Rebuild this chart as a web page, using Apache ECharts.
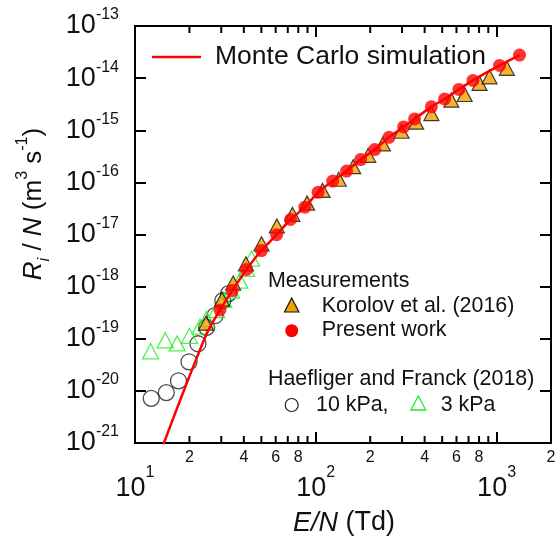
<!DOCTYPE html>
<html>
<head>
<meta charset="utf-8">
<script src="https://cdn.jsdelivr.net/npm/echarts@6/dist/echarts.min.js"></script>
<style>
html,body{margin:0;padding:0;background:#fff;}
#chart{width:558px;height:539px;}
</style>
</head>
<body>
<div id="chart"></div>
<script>
// ---- data ----
const xMin = 10, xMax = 2000;
const yMin = 1e-21, yMax = 1e-13;

const mcX = [13.9, 17.7, 21.9, 25.3, 29.5, 34.5, 41.4, 50, 60.7, 72.5, 87, 103, 124, 148, 177, 212, 254, 306, 352, 436, 516, 619, 740, 1039, 1339];
const mcY = [7.0e-22, 6.4e-21, 4.2e-20, 1.4e-19, 3.56e-19, 8.4e-19, 2.14e-18, 4.92e-18, 9.9e-18, 1.94e-17, 3.35e-17, 6.43e-17, 1.06e-16, 1.65e-16, 2.74e-16, 4.26e-16, 7.33e-16, 1.16e-15, 1.65e-15, 2.81e-15, 3.98e-15, 6.07e-15, 9.04e-15, 1.75e-14, 2.77e-14];

const presentX = [29.5, 34.5, 41.4, 50, 60.7, 72.5, 87, 103, 124, 148, 177, 212, 254, 306, 352, 436, 516, 619, 740, 1039, 1339];
const presentY = [3.56e-19, 8.4e-19, 2.14e-18, 4.92e-18, 9.9e-18, 1.94e-17, 3.35e-17, 6.43e-17, 1.06e-16, 1.65e-16, 2.74e-16, 4.26e-16, 7.33e-16, 1.16e-15, 1.65e-15, 2.81e-15, 3.98e-15, 6.07e-15, 9.04e-15, 1.75e-14, 2.77e-14];

const korX = [24.7, 30.3, 34.9, 41.1, 50.1, 60.9, 74.3, 89.5, 109, 134, 161, 195, 235, 298, 359, 436, 562, 666, 805, 914, 1140];
const korY = [1.99e-19, 5.75e-19, 1.17e-18, 2.74e-18, 6.62e-18, 1.46e-17, 2.43e-17, 4.0e-17, 7.01e-17, 1.15e-16, 2.0e-16, 3.3e-16, 5.46e-16, 9.57e-16, 1.43e-15, 2.09e-15, 3.78e-15, 4.86e-15, 7.91e-15, 1.06e-14, 1.54e-14];

const h10X = [12.3, 14.9, 17.4, 19.9, 22.3, 24.9, 27.7, 30.6, 32.9];
const h10Y = [7.18e-21, 9.27e-21, 1.56e-20, 3.61e-20, 8.02e-20, 1.66e-19, 2.77e-19, 5.38e-19, 7.33e-19];

const h3X = [12.2, 14.7, 17.1, 20.0, 22.9, 24.9, 28.3, 31.0, 34.2, 38.0, 41.4, 44.1];
const h3Y = [5.75e-20, 9.35e-20, 8.13e-20, 1.14e-19, 1.70e-19, 2.39e-19, 3.56e-19, 5.55e-19, 8.38e-19, 1.30e-18, 2.19e-18, 3.45e-18];

const minorTickVals = [20, 30, 40, 50, 60, 70, 80, 90, 200, 300, 400, 500, 600, 700, 800, 900];
const minorLabelVals = [20, 40, 60, 80, 200, 400, 600, 800, 2000];
const minorLabelText = ['2', '4', '6', '8', '2', '4', '6', '8', '2'];

const legendMC = 'Monte Carlo simulation';
const legendMeas = 'Measurements';
const legendKor = 'Korolov et al. (2016)';
const legendPresent = 'Present work';
const legendHF = 'Haefliger and Franck (2018)';
const legend10 = '10 kPa,';
const legend3 = '3 kPa';

// ---- helpers ----
// ECharts' log axis rounds tick values to 10 decimals, so y is plotted in units of 1e-21 m^3 s^-1
// and the tick labels add the exponent back.
const Y_EXP = -21;
const Y_UNIT = Math.pow(10, Y_EXP);
const ys = v => v / Y_UNIT;
const zip = (a, b) => a.map((v, i) => [v, ys(b[i])]);
const FONT = 'Liberation Sans, Arial, sans-serif';
const RED = '#ff0000';
const ORANGE = '#f5a000';
const GREEN = '#22ee22';

function expLabelFn(offset) {
  return function (v) {
    const e = Math.log10(v);
    const r = Math.round(e);
    if (Math.abs(e - r) > 1e-6) return '';
    return '{b|10}{s|' + (r + offset) + '}';
  };
}
const xLabelRich = {
  b: { fontSize: 27, fontFamily: FONT, color: '#111', lineHeight: 48 },
  s: { fontSize: 16, fontFamily: FONT, color: '#111', lineHeight: 16, verticalAlign: 'top' }
};
const yLabelRich = {
  b: { fontSize: 27, fontFamily: FONT, color: '#111', lineHeight: 38 },
  s: { fontSize: 16, fontFamily: FONT, color: '#111', lineHeight: 16, verticalAlign: 'top' }
};

const axisLineStyle = { show: true, lineStyle: { color: '#000', width: 2 } };
const majorTick = { show: true, inside: true, length: 11, lineStyle: { color: '#000', width: 2 } };

const chart = echarts.init(document.getElementById('chart'), null, { renderer: 'canvas' });

const option = {
  animation: false,
  backgroundColor: '#fff',
  grid: { left: 135, right: 7, top: 26, bottom: 96 },
  xAxis: [
    {
      type: 'log', logBase: 10, min: xMin, max: xMax,
      axisLine: axisLineStyle, axisTick: majorTick, splitLine: { show: false },
      axisLabel: { formatter: expLabelFn(0), rich: xLabelRich, margin: 22, showMinLabel: true, showMaxLabel: true }
    },
    {
      type: 'log', logBase: 10, min: xMin, max: xMax, position: 'top',
      axisLine: axisLineStyle, axisTick: majorTick, splitLine: { show: false },
      axisLabel: { show: false }
    }
  ],
  yAxis: [
    {
      type: 'log', logBase: 10, min: ys(yMin), max: ys(yMax),
      axisLine: axisLineStyle, axisTick: majorTick, splitLine: { show: false },
      axisLabel: { formatter: expLabelFn(Y_EXP), rich: yLabelRich, margin: 16, showMinLabel: true, showMaxLabel: true }
    },
    {
      type: 'log', logBase: 10, min: ys(yMin), max: ys(yMax), position: 'right',
      axisLine: axisLineStyle, axisTick: majorTick, splitLine: { show: false },
      axisLabel: { show: false }
    }
  ],
  series: [
    {
      type: 'custom', name: 'minorTicks', xAxisIndex: 0, yAxisIndex: 0, clip: false, silent: true, z: 1,
      data: minorTickVals.map(v => [v, ys(yMin)]),
      renderItem: function (params, api) {
        const v = api.value(0);
        const pb = api.coord([v, ys(yMin)]);
        const pt = api.coord([v, ys(yMax)]);
        return {
          type: 'group', children: [
            { type: 'line', shape: { x1: pb[0], y1: pb[1], x2: pb[0], y2: pb[1] - 7 }, style: { stroke: '#000', lineWidth: 2 } },
            { type: 'line', shape: { x1: pt[0], y1: pt[1], x2: pt[0], y2: pt[1] + 7 }, style: { stroke: '#000', lineWidth: 2 } }
          ]
        };
      }
    },
    {
      type: 'custom', name: 'minorLabels', xAxisIndex: 0, yAxisIndex: 0, clip: false, silent: true, z: 1,
      data: minorLabelVals.map(v => [v, ys(yMin)]),
      renderItem: function (params, api) {
        const v = api.value(0);
        const pb = api.coord([v, ys(yMin)]);
        return {
          type: 'text',
          style: { x: pb[0], y: pb[1] + 15, text: minorLabelText[params.dataIndex], font: '16px ' + FONT, fill: '#111', align: 'center', verticalAlign: 'middle' }
        };
      }
    },
    {
      type: 'scatter', name: '10 kPa', data: zip(h10X, h10Y), symbol: 'circle', symbolSize: 16, z: 2,
      itemStyle: { color: 'rgba(0,0,0,0)', borderColor: '#222', borderWidth: 1.3 }
    },
    {
      type: 'scatter', name: '3 kPa', data: zip(h3X, h3Y), symbol: 'triangle', symbolSize: [16, 15], z: 3,
      itemStyle: { color: 'rgba(0,0,0,0)', borderColor: GREEN, borderWidth: 1.3 }
    },
    {
      type: 'scatter', name: 'Korolov', data: zip(korX, korY), symbol: 'triangle', symbolSize: [15, 14], z: 4,
      itemStyle: { color: ORANGE, borderColor: '#111', borderWidth: 1.2 }
    },
    {
      type: 'line', name: 'Monte Carlo', data: zip(mcX, mcY), symbol: 'none', smooth: 0.3, z: 5, clip: true,
      lineStyle: { color: RED, width: 2.5 }
    },
    {
      type: 'scatter', name: 'Present', data: zip(presentX, presentY), symbol: 'circle', symbolSize: 13, z: 6,
      itemStyle: { color: RED }
    }
  ],
  graphic: [
    { type: 'line', shape: { x1: 152, y1: 57, x2: 201, y2: 57 }, style: { stroke: RED, lineWidth: 2.5 } },
    { type: 'text', x: 215, y: 57, style: { text: legendMC, font: '26.5px ' + FONT, fill: '#111', align: 'left', verticalAlign: 'middle' } },
    { type: 'text', x: 268, y: 281, style: { text: legendMeas, font: '21.4px ' + FONT, fill: '#111', align: 'left', verticalAlign: 'middle' } },
    { type: 'polygon', shape: { points: [[291.7, 298], [284.5, 312], [298.9, 312]] }, style: { fill: ORANGE, stroke: '#111', lineWidth: 1.2 } },
    { type: 'text', x: 321.7, y: 306, style: { text: legendKor, font: '21.4px ' + FONT, fill: '#111', align: 'left', verticalAlign: 'middle' } },
    { type: 'circle', shape: { cx: 291.7, cy: 330.7, r: 6.5 }, style: { fill: RED } },
    { type: 'text', x: 321.7, y: 330, style: { text: legendPresent, font: '21.4px ' + FONT, fill: '#111', align: 'left', verticalAlign: 'middle' } },
    { type: 'text', x: 268, y: 379, style: { text: legendHF, font: '21.4px ' + FONT, fill: '#111', align: 'left', verticalAlign: 'middle' } },
    { type: 'circle', shape: { cx: 291.7, cy: 405, r: 6.5 }, style: { fill: 'none', stroke: '#222', lineWidth: 1.2 } },
    { type: 'text', x: 316, y: 405, style: { text: legend10, font: '21.4px ' + FONT, fill: '#111', align: 'left', verticalAlign: 'middle' } },
    { type: 'polygon', shape: { points: [[418.3, 396], [410.8, 410], [425.8, 410]] }, style: { fill: 'none', stroke: GREEN, lineWidth: 1.3 } },
    { type: 'text', x: 440.7, y: 405, style: { text: legend3, font: '21.4px ' + FONT, fill: '#111', align: 'left', verticalAlign: 'middle' } },
    {
      type: 'text', x: 344, y: 523,
      style: {
        text: '{i|E/N}{n| (Td)}', align: 'center', verticalAlign: 'middle',
        rich: {
          i: { fontSize: 27, fontFamily: FONT, fontStyle: 'italic', fill: '#111' },
          n: { fontSize: 27, fontFamily: FONT, fill: '#111' }
        }
      }
    },
    {
      type: 'text', x: 34, y: 204, rotation: Math.PI / 2,
      style: {
        text: '{i|R}{sub|i}{n| / }{i|N}{n| (m}{sup|3}{n| s}{sup|-1}{n|)}', align: 'center', verticalAlign: 'middle',
        rich: {
          i: { fontSize: 26, fontFamily: FONT, fontStyle: 'italic', fill: '#111', lineHeight: 38 },
          n: { fontSize: 26, fontFamily: FONT, fill: '#111', lineHeight: 38 },
          sub: { fontSize: 16, fontFamily: FONT, fontStyle: 'italic', fill: '#111', lineHeight: 16, verticalAlign: 'bottom' },
          sup: { fontSize: 16, fontFamily: FONT, fill: '#111', lineHeight: 16, verticalAlign: 'top' }
        }
      }
    }
  ]
};
chart.setOption(option);
</script>
</body>
</html>
